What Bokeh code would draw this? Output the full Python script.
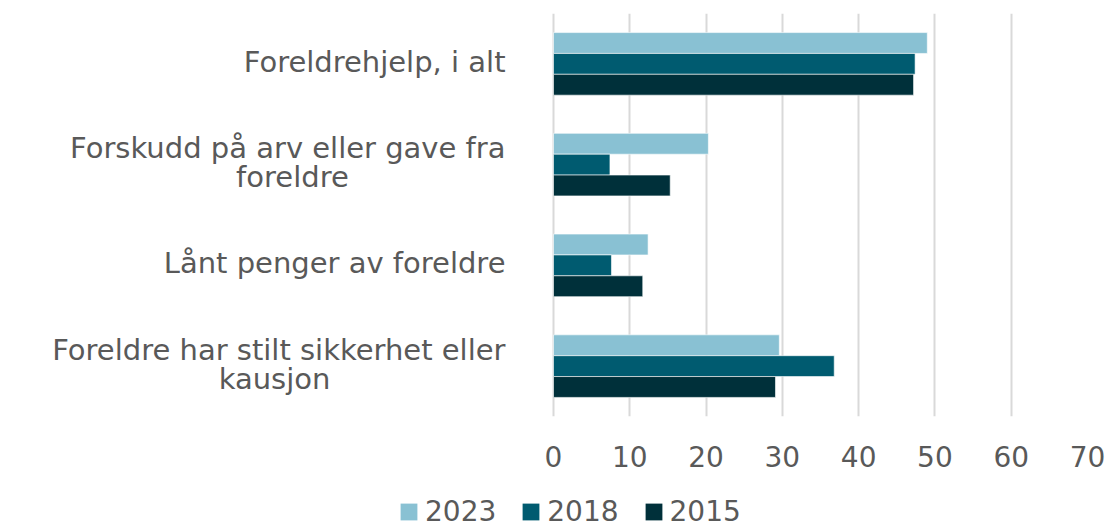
from bokeh.plotting import figure
from bokeh.layouts import column
from bokeh.models import ColumnDataSource, FactorRange, Legend, LegendItem, FixedTicker, Range1d
from bokeh.core.properties import value
from bokeh.transform import dodge
from bokeh.embed import file_html
from bokeh.resources import INLINE

NB = "\u00a0"
categories = [
    "Foreldrehjelp, i alt",
    "Forskudd på arv eller gave fra foreldre",
    "Lånt penger av foreldre",
    "Foreldre har stilt sikkerhet eller kausjon",
]
# wrapped display labels (second line padded so it sits centred under the first)
labels = [
    "Foreldrehjelp, i alt",
    "Forskudd på arv eller gave fra\nforeldre" + NB * 17,
    "Lånt penger av foreldre",
    "Foreldre har stilt sikkerhet eller\nkausjon" + NB * 19,
]
years = ["2023", "2018", "2015"]
v2023 = [49.0, 20.3, 12.4, 29.6]
v2018 = [47.4, 7.4, 7.6, 36.8]
v2015 = [47.2, 15.3, 11.7, 29.1]
x_ticks = [0, 10, 20, 30, 40, 50, 60, 70]
colors = ["#89C1D3", "#005B70", "#00303A"]

FONT = "DejaVu Sans"
TXT = "#595959"

src = ColumnDataSource(dict(cat=categories, label=labels, zero=[0] * len(categories),
                            v2023=v2023, v2018=v2018, v2015=v2015))

# frame spans the full width; value 0 sits at x=553 px, 70 at x=1087 px
px_per_unit = (1087 - 553) / 70
p = figure(
    width=1107, height=482,
    y_range=FactorRange(*list(reversed(categories)), range_padding=0),
    x_range=Range1d(-553 / px_per_unit, 70),
    output_backend="svg", toolbar_location=None,
    min_border_left=0, min_border_right=20, min_border_top=13, min_border_bottom=66,
)
p.outline_line_color = None

bh = 0.207
offsets = [bh, 0.0, -bh]
for yr, off, col in zip(years, offsets, colors):
    p.hbar(y=dodge("cat", off, range=p.y_range), right="v" + yr, left=0,
           height=bh, source=src, fill_color=col, line_color="white", line_width=0.6)

p.text(x="zero", y="cat", text="label", source=src, x_offset=-48, y_offset=-2,
       text_align="right", text_baseline="middle",
       text_font=value(FONT), text_font_size="29px", text_color=TXT,
       text_line_height=0.85)

p.yaxis.visible = False
p.xaxis.ticker = FixedTicker(ticks=x_ticks)
p.xaxis.axis_line_color = None
p.xaxis.major_tick_line_color = None
p.xaxis.minor_tick_line_color = None
p.xaxis.major_label_text_font = FONT
p.xaxis.major_label_text_font_size = "28px"
p.xaxis.major_label_text_color = TXT
p.xaxis.major_label_standoff = 23

p.xgrid.ticker = FixedTicker(ticks=x_ticks)
p.xgrid.grid_line_color = "#D9D9D9"
p.xgrid.grid_line_width = 2
p.ygrid.grid_line_color = None

# legend strip below the chart
lf = figure(
    width=1107, height=46, x_range=Range1d(0, 1), y_range=Range1d(0, 1),
    output_backend="svg", toolbar_location=None,
    min_border_left=0, min_border_right=20, min_border_top=0, min_border_bottom=0,
)
lf.axis.visible = False
lf.grid.visible = False
lf.outline_line_color = None
leg_renderers = []
for yr, col in zip(years, colors):
    # zero-size proxy glyphs, only used for the legend swatches
    r = lf.hbar(y=[0], left=[0], right=[0], height=0, fill_color=col, line_color=None)
    leg_renderers.append(r)

legend = Legend(
    items=[LegendItem(label=yr, renderers=[r]) for yr, r in zip(years, leg_renderers)],
    orientation="horizontal",
    location=(398, 0),
    label_text_font=FONT, label_text_font_size="28px", label_text_color=TXT,
    glyph_width=21, glyph_height=21, spacing=24, label_standoff=6,
    border_line_color=None, background_fill_alpha=0, padding=0, margin=0,
)
lf.add_layout(legend, "center")

layout = column(p, lf, spacing=0)
open("out.html", "w").write(file_html(layout, INLINE))
